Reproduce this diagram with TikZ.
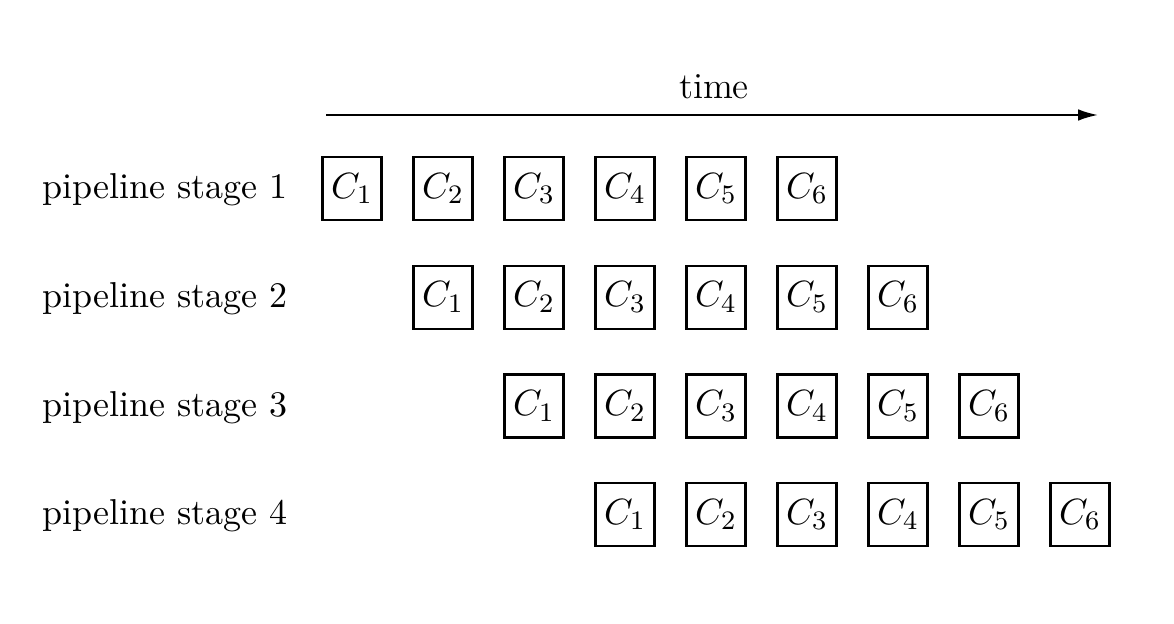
\documentclass[tikz,border=0pt]{standalone}
\usetikzlibrary{arrows.meta}
\begin{document}
\begin{tikzpicture}[x=0.3pt, y=-0.3pt, >={Latex[length=6pt,width=3.5pt]},
    cbox/.style={draw, line width=0.7pt, minimum width=17.7pt, minimum height=18.9pt, inner sep=0pt},
    stagelabel/.style={anchor=west, inner sep=0pt, font=\fontsize{10.8}{13}\selectfont}]
\useasboundingbox (0,0) rectangle (1174,624);
\coordinate (tstart) at (326,115);
\coordinate (tend) at (1098,115);
\draw[->, line width=0.6pt] (tstart)--(tend);
\node[font=\fontsize{11}{13}\selectfont] (time) at (714,87) {time};
\foreach \r in {1,...,4}
{
    \node[stagelabel] (stage\r) at (42,{190+108.7*(\r-1)}) {pipeline stage \r};
    \foreach \c in {1,...,6}
    {
        \node[cbox] (c\r\c) at ({352+91*(\c+\r-2)},{188.5+108.7*(\r-1)}) {\fontsize{11}{13}\selectfont$C_{\c}$};
    }
}
\end{tikzpicture}
\end{document}
